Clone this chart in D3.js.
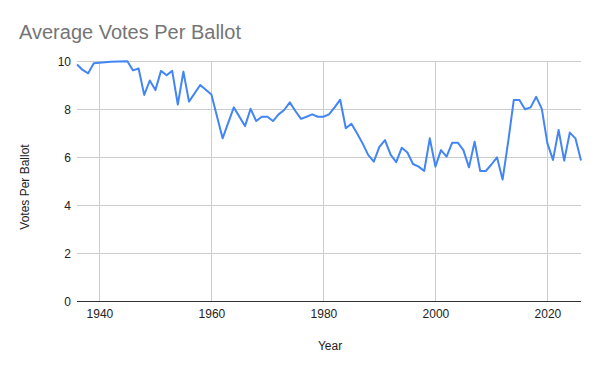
<!DOCTYPE html>
<html>
<head>
<meta charset="utf-8">
<script src="https://cdn.jsdelivr.net/npm/d3@7"></script>
<style>
  html, body { margin: 0; padding: 0; background: #fff; }
  svg { display: block; font-family: "Liberation Sans", Arial, sans-serif; }
</style>
</head>
<body>
<svg id="chart" width="600" height="371"></svg>
<script>
const years = [1936,1937,1938,1939,1942,1945,1946,1947,1948,1949,1950,1951,1952,1953,1954,1955,1956,1958,1960,1962,1964,
  1966,1967,1968,1969,1970,1971,1972,1973,1974,1975,1976,1977,1978,1979,1980,1981,1982,1983,1984,1985,1986,1987,1988,1989,
  1990,1991,1992,1993,1994,1995,1996,1997,1998,1999,2000,2001,2002,2003,2004,2005,2006,2007,2008,2009,2010,2011,2012,2013,
  2014,2015,2016,2017,2018,2019,2020,2021,2022,2023,2024,2025,2026];
const votes = [9.87,9.64,9.5,9.92,9.98,10.0,9.62,9.7,8.6,9.2,8.8,9.6,9.42,9.6,8.2,9.57,8.32,9.01,8.62,6.79,8.08,
  7.3,8.02,7.51,7.69,7.69,7.51,7.79,7.97,8.29,7.93,7.6,7.69,7.79,7.69,7.69,7.79,8.08,8.4,7.21,7.4,7.0,6.58,6.1,5.82,
  6.43,6.72,6.11,5.8,6.4,6.2,5.72,5.61,5.43,6.79,5.61,6.3,6.03,6.61,6.61,6.3,5.58,6.65,5.43,5.43,5.7,6.0,5.07,6.65,
  8.39,8.39,8.0,8.08,8.52,8.02,6.58,5.89,7.14,5.86,7.03,6.79,5.87];
const xTicks = [1940,1960,1980,2000,2020];
const yTicks = [0,2,4,6,8,10];
const chartTitle = "Average Votes Per Ballot";
const xTitle = "Year";
const yTitle = "Votes Per Ballot";

const data = years.map((yr, i) => ({ year: yr, v: votes[i] }));
const svg = d3.select("#chart");
const mLeft = 77, mRight = 581, mTop = 61.3, mBottom = 301.3;

const x = d3.scaleLinear().domain([1936, 2026]).range([mLeft, mRight]);
const y = d3.scaleLinear().domain([0, 10]).range([mBottom, mTop]);

// gridlines
svg.append("g").selectAll("line").data(yTicks.filter(t => t !== 0)).join("line")
  .attr("x1", mLeft).attr("x2", mRight)
  .attr("y1", d => y(d)).attr("y2", d => y(d))
  .attr("stroke", "#cccccc").attr("stroke-width", 1).attr("shape-rendering", "crispEdges");
svg.append("g").selectAll("line").data(xTicks).join("line")
  .attr("x1", d => x(d)).attr("x2", d => x(d))
  .attr("y1", mTop).attr("y2", mBottom)
  .attr("stroke", "#cccccc").attr("stroke-width", 1).attr("shape-rendering", "crispEdges");

// y tick labels
const yAxis = d3.axisLeft(y).tickValues(yTicks).tickSize(0).tickPadding(6).tickFormat(d3.format("d"));
const gy = svg.append("g").attr("transform", `translate(${mLeft},0)`).call(yAxis);
gy.select(".domain").remove();
gy.selectAll("text").attr("font-size", 12).attr("fill", "#222").attr("font-family", "Liberation Sans, Arial, sans-serif");

// x tick labels
const xAxis = d3.axisBottom(x).tickValues(xTicks).tickSize(0).tickPadding(8).tickFormat(d3.format("d"));
const gx = svg.append("g").attr("transform", `translate(0,${mBottom})`).call(xAxis);
gx.select(".domain").remove();
gx.selectAll("text").attr("font-size", 12).attr("fill", "#222").attr("font-family", "Liberation Sans, Arial, sans-serif");

// baseline
svg.append("line").attr("x1", mLeft).attr("x2", mRight).attr("y1", y(0)).attr("y2", y(0))
  .attr("stroke", "#333").attr("stroke-width", 1).attr("shape-rendering", "crispEdges");

// line
const line = d3.line().x(d => x(d.year)).y(d => y(d.v));
svg.append("path").datum(data).attr("d", line)
  .attr("fill", "none").attr("stroke", "#4285f4").attr("stroke-width", 2).attr("stroke-linejoin", "round");

// titles
svg.append("text").attr("x", 19).attr("y", 39).text(chartTitle)
  .attr("font-size", 20).attr("fill", "#757575");
svg.append("text").attr("x", 330).attr("y", 350).attr("text-anchor", "middle").text(xTitle)
  .attr("font-size", 12).attr("fill", "#222");
svg.append("text").attr("transform", "translate(29,187) rotate(-90)").attr("text-anchor", "middle").text(yTitle)
  .attr("font-size", 12).attr("fill", "#222");
</script>
</body>
</html>
